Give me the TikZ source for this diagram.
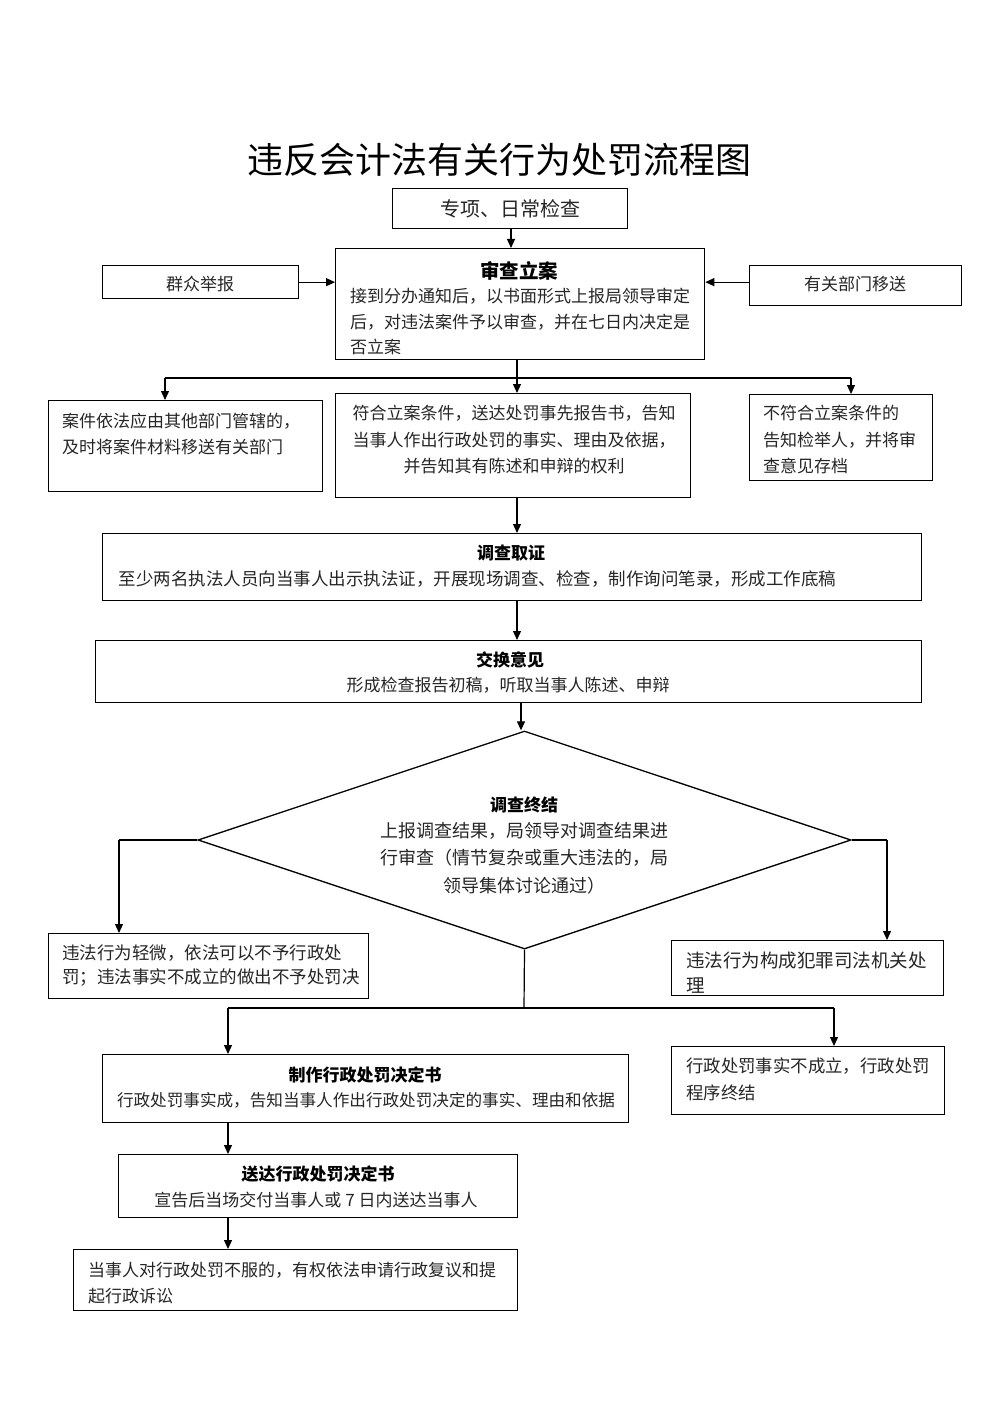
\documentclass[tikz,border=0pt]{standalone}
\usepackage{fontspec}
\setmainfont{Noto Sans CJK SC}
\usetikzlibrary{arrows.meta,shapes.geometric}
\tikzset{
  box/.style={draw, line width=1.3pt, inner sep=0pt, anchor=north west},
  txt/.style={inner sep=0pt, anchor=north, align=center, text=black!85, font=\fontsize{17}{26}\selectfont},
  ltxt/.style={inner sep=0pt, anchor=north west, align=left, text=black!85, font=\fontsize{17}{26}\selectfont},
  ttl/.style={inner sep=0pt, anchor=north, text=black, font=\bfseries\fontsize{17}{26}\selectfont},
  arr/.style={-{Triangle[length=9pt,width=8pt]}, line width=1.2pt},
  ln/.style={line width=1.2pt}
}
\newcommand\mybox[5]{\node[box, minimum width={(#4-#2)*1pt}, minimum height={(#5-#3)*1pt}] (#1) at (#2,#3) {};}
\begin{document}
\begin{tikzpicture}[x=1pt,y=-1pt]
\useasboundingbox[fill=white] (0,0) rectangle (1000,1415);
% title
\node[inner sep=0pt, font=\fontsize{36}{40}\selectfont] (title) at (499,160) {违反会计法有关行为处罚流程图};
% boxes
\mybox{zx}{392}{188}{627}{228}
\mybox{sc}{335}{248}{704}{359}
\mybox{qz}{102}{265}{298}{298}
\mybox{yg}{749}{265}{961}{305}
\mybox{lb}{48}{400}{322}{491}
\mybox{mb}{335}{393}{690}{497}
\mybox{rb}{749}{394}{932}{480}
\mybox{dc}{102}{533}{921}{600}
\mybox{jh}{95}{640}{921}{702}
\node[draw, diamond, line width=1.3pt, inner sep=0pt, minimum width=653pt, minimum height=218pt] (dia) at (524.5,840) {};
\mybox{lb2}{48}{933}{368}{998}
\mybox{rb2}{671}{940}{943}{995}
\mybox{zz}{102}{1054}{628}{1122}
\mybox{rb3}{671}{1046}{944}{1114}
\mybox{sd}{118}{1154}{517}{1217}
\mybox{bt}{73}{1249}{517}{1310}
% texts
\node[txt, font=\fontsize{20}{26}\selectfont] (t-zx) at (510,199.5) {专项、日常检查};
\node[ttl, font=\bfseries\fontsize{19.5}{26}\selectfont] (t-sc) at (519,261) {审查立案};
\node[txt, font=\fontsize{17}{25.5}\selectfont] (b-sc) at (520,288) {接到分办通知后，以书面形式上报局领导审定\\后，对违法案件予以审查，并在七日内决定是\\否立案\hphantom{接到分办通知后，以书面形式上报局领}};
\node[txt] (t-qz) at (200,276) {群众举报};
\node[txt] (t-yg) at (855,276) {有关部门移送};
\node[ltxt] (t-lb) at (62,413) {案件依法应由其他部门管辖的，\\及时将案件材料移送有关部门};
\node[txt, font=\fontsize{17}{26.5}\selectfont] (t-mb) at (514,405) {符合立案条件，送达处罚事先报告书，告知\\当事人作出行政处罚的事实、理由及依据，\\并告知其有陈述和申辩的权利};
\node[ltxt, font=\fontsize{17}{26.5}\selectfont] (t-rb) at (763,405) {不符合立案条件的\\告知检举人，并将审\\查意见存档};
\node[ttl] (t-dc) at (511,545) {调查取证};
\node[txt, font=\fontsize{17.5}{26}\selectfont] (b-dc) at (477.5,570) {至少两名执法人员向当事人出示执法证，开展现场调查、检查，制作询问笔录，形成工作底稿};
\node[ttl] (t-jh) at (510,652) {交换意见};
\node[txt] (b-jh) at (508,677) {形成检查报告初稿，听取当事人陈述、申辩};
\node[ttl] (t-dia) at (524,797) {调查终结};
\node[txt, font=\fontsize{18}{27.5}\selectfont] (b-dia) at (524,822) {上报调查结果，局领导对调查结果进\\行审查（情节复杂或重大违法的，局\\领导集体讨论通过）};
\node[ltxt, font=\fontsize{17.5}{24}\selectfont] (t-lb2) at (62,945) {违法行为轻微，依法可以不予行政处\\罚；违法事实不成立的做出不予处罚决};
\node[ltxt, font=\fontsize{18.5}{25}\selectfont] (t-rb2) at (686,952) {违法行为构成犯罪司法机关处\\理};
\node[ttl] (t-zz) at (365,1067) {制作行政处罚决定书};
\node[txt, font=\fontsize{16.6}{26}\selectfont] (b-zz) at (366,1092) {行政处罚事实成，告知当事人作出行政处罚决定的事实、理由和依据};
\node[ltxt, font=\fontsize{17.4}{27}\selectfont] (t-rb3) at (686,1058) {行政处罚事实不成立，行政处罚\\程序终结};
\node[ttl] (t-sd) at (318,1166) {送达行政处罚决定书};
\node[txt] (b-sd) at (316,1192) {宣告后当场交付当事人或 7 日内送达当事人};
\node[ltxt] (t-bt) at (88,1262) {当事人对行政处罚不服的，有权依法申请行政复议和提\\起行政诉讼};
% junction coordinates
\coordinate (j1) at (517,378);
\coordinate (j1l) at (165,378);
\coordinate (j1r) at (851,378);
\coordinate (dl) at (119,840);
\coordinate (dr) at (887,840);
\coordinate (j2) at (524,1008);
\coordinate (j2l) at (228,1008);
\coordinate (j2r) at (834,1008);
% connectors
\draw[arr] (zx.south -| 511,0) -- (sc.north -| 511,0);
\draw[arr] (qz.east) -- (qz.east -| sc.west);
\draw[arr] (yg.west |- qz.east) -- (sc.east |- qz.east);
\draw[ln] (sc.south -| j1) -- (j1);
\draw[ln] (j1l) -- (j1r);
\draw[arr] (j1l) -- (j1l |- lb.north);
\draw[arr] (j1) -- (j1 |- mb.north);
\draw[arr] (j1r) -- (j1r |- rb.north);
\draw[arr] (mb.south -| j1) -- (dc.north -| j1);
\draw[arr] (dc.south -| j1) -- (jh.north -| j1);
\draw[arr] (jh.south -| 521,0) -- (dia.north -| 521,0);
\draw[ln] (dia.west) -- (dl);
\draw[arr] (dl) -- (dl |- lb2.north);
\draw[ln] (dia.east) -- (dr);
\draw[arr] (dr) -- (dr |- rb2.north);
\draw[ln] (dia.south) -- (j2);
\draw[ln] (j2l) -- (j2r);
\draw[arr] (j2l) -- (j2l |- zz.north);
\draw[arr] (j2r) -- (j2r |- rb3.north);
\draw[arr] (zz.south -| j2l) -- (sd.north -| j2l);
\draw[arr] (sd.south -| j2l) -- (bt.north -| j2l);
\end{tikzpicture}
\end{document}
